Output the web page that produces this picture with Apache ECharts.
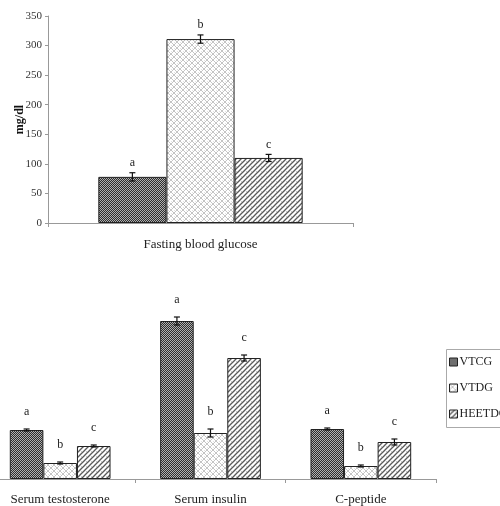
<!DOCTYPE html>
<html><head><meta charset="utf-8">
<script src="https://cdn.jsdelivr.net/npm/echarts@6/dist/echarts.min.js"></script>
<style>html,body{margin:0;padding:0;background:#fff;overflow:hidden;width:500px;height:506px}#c{position:absolute;left:-15px;top:0;width:540px;height:506px}</style>
</head><body><div id="c"></div>
<script>
// ---- data ----
const groups = ['VTCG', 'VTDG', 'HEETDG'];
const topCategories = ['Fasting blood glucose'];
const glucoseMean = [78, 311, 110];
const glucoseErr = [7, 7, 6];
const glucoseSig = ['a', 'b', 'c'];
const topTicks = [0, 50, 100, 150, 200, 250, 300, 350];

const bottomCategories = ['Serum testosterone', 'Serum insulin', 'C-peptide'];
const vtcgBottom = [49, 158, 50];
const vtdgBottom = [16, 46, 13];
const heetdgBottom = [33, 121, 37];
const vtcgBottomErr = [1, 4, 1];
const vtdgBottomErr = [1, 4, 1];
const heetdgBottomErr = [1, 3, 3];
const bottomSig = [['a', 'a', 'a'], ['b', 'b', 'b'], ['c', 'c', 'c']];

// ---- patterns ----
function pattern(kind) {
  const cv = document.createElement('canvas');
  const ctx = cv.getContext('2d');
  if (kind === 0) {
    cv.width = 2; cv.height = 2;
    ctx.fillStyle = '#b0b0b0'; ctx.fillRect(0, 0, 2, 2);
    ctx.fillStyle = '#2e2e2e'; ctx.fillRect(0, 0, 1, 1); ctx.fillRect(1, 1, 1, 1);
  } else if (kind === 1) {
    cv.width = 6; cv.height = 6;
    ctx.fillStyle = '#ffffff'; ctx.fillRect(0, 0, 6, 6);
    ctx.fillStyle = '#c4c4c4';
    for (let i = 0; i < 6; i++) { ctx.fillRect(i, i, 1, 1); ctx.fillRect(5 - i, i, 1, 1); }
    ctx.fillStyle = '#e2e2e2'; ctx.fillRect(3, 0, 1, 1); ctx.fillRect(0, 3, 1, 1);
  } else {
    cv.width = 5; cv.height = 5;
    ctx.fillStyle = '#ffffff'; ctx.fillRect(0, 0, 5, 5);
    ctx.strokeStyle = '#5a5a5a'; ctx.lineWidth = 1.3;
    for (let o = -5; o <= 5; o += 5) {
      ctx.beginPath(); ctx.moveTo(o - 1, 6); ctx.lineTo(o + 6, -1); ctx.stroke();
    }
    ctx.fillStyle = 'rgba(150,150,150,0.5)';
    ctx.fillRect(1, 1, 1, 1);
  }
  return { image: cv, repeat: 'repeat' };
}
const fills = [pattern(0), pattern(1), pattern(2)];

const FONT = 'Liberation Serif';
const GAP = 0.33;

function errSeries(gi, xAxisIndex, yAxisIndex, means, errs, sigs, lift) {
  return {
    type: 'custom', name: groups[gi], xAxisIndex, yAxisIndex, z: 10,
    silent: true,
    data: means.map((m, k) => [k, m, errs[k], sigs[k]]),
    encode: { x: 0, y: 1 },
    renderItem: function (params, api) {
      const k = api.value(0), m = api.value(1), e = api.value(2);
      const band = api.size([1, 0])[0];
      const bw = band * (1 - GAP) / 3;
      const c = api.coord([k, m]);
      const x = c[0] + (gi - 1) * bw;
      const yt = api.coord([k, m + e])[1];
      const yb = api.coord([k, m - e])[1];
      const st = { stroke: '#111', lineWidth: 1.2 };
      return {
        type: 'group', children: [
          { type: 'line', shape: { x1: x, y1: yt, x2: x, y2: yb }, style: st },
          { type: 'line', shape: { x1: x - 3, y1: yt, x2: x + 3, y2: yt }, style: st },
          { type: 'line', shape: { x1: x - 3, y1: yb, x2: x + 3, y2: yb }, style: st },
          { type: 'text', x: x, y: yt - lift, style: { text: sigs[k], fill: '#222', font: '12px "' + FONT + '"', align: 'center', verticalAlign: 'middle' } }
        ]
      };
    }
  };
}

const bottomMeans = [vtcgBottom, vtdgBottom, heetdgBottom];
const bottomErrs = [vtcgBottomErr, vtdgBottomErr, heetdgBottomErr];

const series = [];
groups.forEach((g, gi) => {
  series.push({
    type: 'bar', name: g, xAxisIndex: 0, yAxisIndex: 0,
    data: [glucoseMean[gi]], barGap: 0, barCategoryGap: '33%',
    itemStyle: { color: fills[gi], borderColor: '#222', borderWidth: 1 }
  });
});
groups.forEach((g, gi) => {
  series.push({
    type: 'bar', name: g, xAxisIndex: 1, yAxisIndex: 1,
    data: bottomMeans[gi], barGap: 0, barCategoryGap: '33%',
    itemStyle: { color: fills[gi], borderColor: '#222', borderWidth: 1 }
  });
});
groups.forEach((g, gi) => {
  series.push(errSeries(gi, 0, 0, [glucoseMean[gi]], [glucoseErr[gi]], [glucoseSig[gi]], 10));
});
groups.forEach((g, gi) => {
  series.push(errSeries(gi, 1, 1, bottomMeans[gi], bottomErrs[gi], bottomSig[gi], 17));
});

const chart = echarts.init(document.getElementById('c'), null, { renderer: 'canvas' });
chart.setOption({
  animation: false,
  backgroundColor: '#fff',
  textStyle: { fontFamily: FONT },
  graphic: [{
    type: 'rect', left: 461, top: 349, z: -1,
    shape: { width: 80, height: 78 },
    style: { fill: '#fff', stroke: '#aaa', lineWidth: 1 }
  }],
  legend: {
    data: groups, orient: 'vertical', left: 461, top: 349,
    itemWidth: 8, itemHeight: 8, itemGap: 14,
    padding: [7, 0, 7, 3],
    textStyle: { fontFamily: FONT, fontSize: 12, color: '#222', padding: [0, 0, 0, -3] },
    icon: 'rect',
    itemStyle: { borderColor: '#222', borderWidth: 1 },
    selectedMode: false
  },
  grid: [
    { left: 63, right: 172, top: 16, bottom: 283 },
    { left: 0, right: 89, top: 279, bottom: 27 }
  ],
  xAxis: [
    {
      type: 'category', gridIndex: 0, data: topCategories,
      axisLine: { lineStyle: { color: '#999' } },
      axisTick: { show: true, length: 4, lineStyle: { color: '#999' } },
      axisLabel: { fontFamily: FONT, fontSize: 13, color: '#222', margin: 15 }
    },
    {
      type: 'category', gridIndex: 1, data: bottomCategories,
      axisLine: { lineStyle: { color: '#999' } },
      axisTick: { show: true, length: 4, lineStyle: { color: '#999' } },
      axisLabel: { fontFamily: FONT, fontSize: 13, color: '#222', margin: 14 }
    }
  ],
  yAxis: [
    {
      type: 'value', gridIndex: 0, min: topTicks[0], max: topTicks[topTicks.length - 1], interval: 50,
      name: 'mg/dl', nameLocation: 'middle', nameGap: 22, nameRotate: 90, nameMoveOverlap: false,
      nameTextStyle: { fontFamily: FONT, fontSize: 12, fontWeight: 'bold', color: '#111' },
      axisLine: { show: true, lineStyle: { color: '#999' } },
      axisTick: { show: true, length: 3, lineStyle: { color: '#999' } },
      splitLine: { show: false },
      axisLabel: { fontFamily: FONT, fontSize: 11, color: '#333', margin: 6 }
    },
    {
      type: 'value', gridIndex: 1, min: 0, max: 200, show: false, splitLine: { show: false }
    }
  ],
  series
});
</script>
</body></html>
